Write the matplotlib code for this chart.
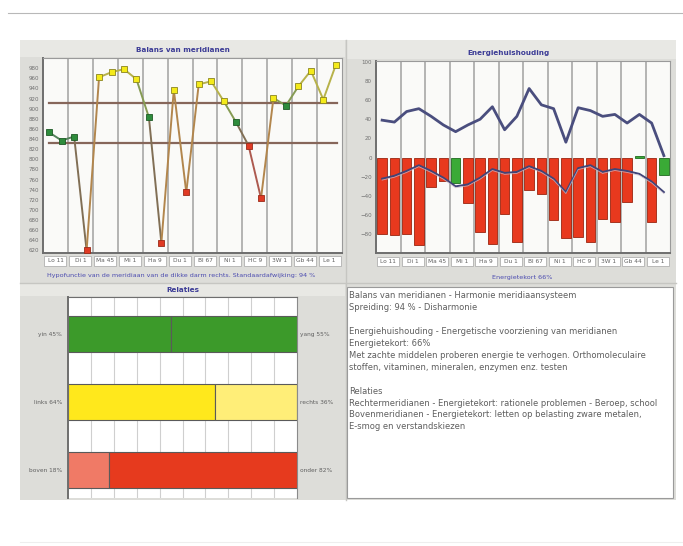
import matplotlib
matplotlib.use('Agg')
import matplotlib.pyplot as plt
import numpy as np
from matplotlib.patches import Rectangle
from matplotlib.collections import LineCollection
from matplotlib.lines import Line2D
import matplotlib.colors as mcolors
import matplotlib.transforms as mtrans

# ---------------- data ----------------
categories = ["Lo 11", "Di 1", "Ma 45", "Mi 1", "Ha 9", "Du 1", "Bl 67",
              "Ni 1", "HC 9", "3W 1", "Gb 44", "Le 1"]

# Balans van meridianen: two values (left / right) per meridian
balans = [853, 837, 845, 620, 962, 972, 978, 958, 883, 635, 937, 735,
          948, 954, 915, 873, 827, 723, 921, 906, 944, 975, 918, 986]
balans_upper = 912
balans_lower = 832
balans_ticks = list(range(620, 981, 20))
balans_caption = "Hypofunctie van de meridiaan van de dikke darm rechts. Standaardafwijking: 94 %"

# Energiehuishouding
energie_bars = [-80, -81, -80, -91, -31, -24, -27, -47, -78, -90, -59, -88,
                -34, -38, -65, -84, -83, -88, -64, -67, -46, 2, -67, -18]
energie_upper = [39, 37, 48, 51, 43, 34, 27, 34, 40, 53, 29, 43,
                 72, 55, 51, 16, 52, 49, 43, 45, 36, 45, 36, 2]
energie_lower = [-22, -19, -14, -8, -14, -21, -30, -28, -21, -12, -16, -15,
                 -9, -14, -22, -36, -11, -8, -15, -12, -14, -17, -25, -36]
energie_ticks = list(range(-80, 101, 20))
energie_caption = "Energietekort 66%"

# Relaties
rel_left_labels = ["yin 45%", "links 64%", "boven 18%"]
rel_right_labels = ["yang 55%", "rechts 36%", "onder 82%"]
rel_left = [45, 64, 18]
rel_right = [55, 36, 82]

info_lines = [
    "Balans van meridianen - Harmonie meridiaansysteem",
    "Spreiding: 94 % - Disharmonie",
    "",
    "Energiehuishouding - Energetische voorziening van meridianen",
    "Energietekort: 66%",
    "Met zachte middelen proberen energie te verhogen. Orthomoleculaire",
    "stoffen, vitaminen, mineralen, enzymen enz. testen",
    "",
    "Relaties",
    "Rechtermeridianen - Energietekort: rationele problemen - Beroep, school",
    "Bovenmeridianen - Energietekort: letten op belasting zware metalen,",
    "E-smog en verstandskiezen",
]

# ---------------- layout helpers ----------------
W, H = 683, 546
fig = plt.figure(figsize=(W / 100, H / 100), dpi=100)
fig.patch.set_facecolor('white')
plt.rcParams['font.family'] = ['DejaVu Sans']


def px_axes(x0, y0, x1, y1):
    ax = fig.add_axes([x0 / W, 1 - y1 / H, (x1 - x0) / W, (y1 - y0) / H])
    ax.set_zorder(5)
    return ax


def frect(x0, y0, x1, y1, fc, ec='none', lw=0, z=-10):
    fig.patches.append(Rectangle((x0 / W, 1 - y1 / H), (x1 - x0) / W, (y1 - y0) / H,
                                 transform=fig.transFigure, facecolor=fc,
                                 edgecolor=ec, linewidth=lw, zorder=z))


def fline(x0, y0, x1, y1, color, lw=1, z=-8):
    fig.add_artist(Line2D([x0 / W, x1 / W], [1 - y0 / H, 1 - y1 / H],
                          transform=fig.transFigure, color=color, lw=lw, zorder=z))


def ftext(x, y, s, **kw):
    fig.text(x / W, 1 - y / H, s, **kw)


TITLE_C = '#3C3C96'
CAP_C = '#4B4BB0'
TICK_C = '#707070'
GRID_C = '#A0A0A0'

# backgrounds
fline(8, 13, 683, 13, '#B8B8B8', lw=0.8)
fline(20, 542, 683, 542, '#EEEEEE', lw=0.8)
frect(20, 40, 676, 500, '#DDDDD9', z=-10)
frect(20, 40, 345, 57, '#E8E8E4', z=-9)
frect(347, 40, 676, 59, '#E8E8E4', z=-9)
frect(20, 284, 345, 296, '#E8E8E4', z=-9)
fline(346, 40, 346, 500, '#C6C6C2', lw=1)
fline(20, 283, 676, 283, '#C6C6C2', lw=1)

ftext(183, 50, "Balans van meridianen", ha='center', va='center',
      fontsize=5.2, fontweight='bold', color=TITLE_C)
ftext(508, 53, "Energiehuishouding", ha='center', va='center',
      fontsize=5.2, fontweight='bold', color=TITLE_C)
ftext(183, 290, "Relaties", ha='center', va='center',
      fontsize=5.2, fontweight='bold', color=TITLE_C)


def style_axes(ax):
    for s in ['top', 'right']:
        ax.spines[s].set_color('#9A9A9A')
        ax.spines[s].set_linewidth(0.8)
    for s in ['left', 'bottom']:
        ax.spines[s].set_color('#6E6E6E')
        ax.spines[s].set_linewidth(1.4)
    ax.tick_params(axis='both', length=0, labelsize=4, labelcolor=TICK_C, pad=3)


def category_boxes(ax, y0, y1):
    trans = mtrans.blended_transform_factory(ax.transData, ax.transAxes)
    for k, lab in enumerate(categories):
        ax.add_patch(Rectangle((2 * k + 0.12, y0), 1.76, y1 - y0, transform=trans,
                               facecolor='white', edgecolor='#B0B0B0', lw=0.6,
                               clip_on=False))
        ax.text(2 * k + 1, (y0 + y1) / 2, lab, transform=trans, ha='center',
                va='center', fontsize=4.2, color='#606060', clip_on=False)


x_pts = np.arange(len(balans)) + 0.5

# ---------------- Balans van meridianen ----------------
ax1 = px_axes(43, 58, 342, 253)
ax1.set_facecolor('#FAFAF8')
ax1.set_xlim(0, 24)
ax1.set_ylim(615, 1000)
ax1.vlines(np.arange(2, 24, 2), 615, 1000, color=GRID_C, lw=1.1, zorder=0)
style_axes(ax1)
ax1.set_xticks([])
ax1.set_yticks(balans_ticks)

ax1.plot([0.5, 23.6], [balans_upper, balans_upper], color='#86665A', lw=1.6, zorder=1)
ax1.plot([0.5, 23.6], [balans_lower, balans_lower], color='#86665A', lw=1.6, zorder=1)

YEL, GRN, RED = '#F4EA1A', '#2E8C3C', '#E03A24'
mcols = []
for v in balans:
    if v > balans_upper:
        mcols.append(YEL)
    elif v < balans_lower:
        mcols.append(RED)
    else:
        mcols.append(GRN)

gray = np.array(mcolors.to_rgb('#7A7A7A'))
segs, scols = [], []
for i in range(len(balans) - 1):
    segs.append([(x_pts[i], balans[i]), (x_pts[i + 1], balans[i + 1])])
    c = 0.5 * gray + 0.25 * np.array(mcolors.to_rgb(mcols[i])) + \
        0.25 * np.array(mcolors.to_rgb(mcols[i + 1]))
    scols.append(c)
ax1.add_collection(LineCollection(segs, colors=scols, linewidths=1.4, zorder=2))
edge_map = {YEL: '#8A8420', GRN: '#1E5A26', RED: '#9A2A18'}
for xi, v, c in zip(x_pts, balans, mcols):
    ax1.plot(xi, v, marker='s', ms=5, mfc=c, mec=edge_map[c], mew=0.6, zorder=3,
             clip_on=False)
category_boxes(ax1, -0.067, -0.015)
ftext(181, 276, balans_caption, ha='center', va='center', fontsize=4.6, color=CAP_C)

# ---------------- Energiehuishouding ----------------
ax2 = px_axes(376, 61, 670, 253)
ax2.set_facecolor('#FAFAF8')
ax2.set_xlim(0, 24)
ax2.set_ylim(-99.5, 100.7)
ax2.vlines(np.arange(2, 24, 2), -100, 101, color=GRID_C, lw=1.1, zorder=0)
style_axes(ax2)
ax2.set_xticks([])
ax2.set_yticks(energie_ticks)

bcols, becols = [], []
for b, lo in zip(energie_bars, energie_lower):
    if b > lo:
        bcols.append('#3AAA36'); becols.append('#1E6A1E')
    else:
        bcols.append('#E8391E'); becols.append('#9A2410')
ax2.bar(x_pts, energie_bars, width=0.76, color=bcols, edgecolor=becols, lw=0.6, zorder=2)
ax2.plot(x_pts, energie_upper, color='#4A4E7E', lw=2.0, zorder=3)
ax2.plot(x_pts, energie_lower, color='#404478', lw=1.4, zorder=3)
ax2.plot(x_pts, np.array(energie_lower) - 1.5, color='#C8B8C8', lw=0.6, zorder=3, alpha=0.8)
category_boxes(ax2, -0.068, -0.021)
ftext(522, 278, energie_caption, ha='center', va='center', fontsize=4.6, color=CAP_C)

# ---------------- Relaties ----------------
ax3 = px_axes(68, 297, 297, 498)
ax3.set_facecolor('white')
ax3.set_xlim(0, 100)
ax3.set_ylim(2.41, -0.545)
ax3.vlines(np.arange(10, 100, 10), -1, 3, color='#CFCFCF', lw=0.8, zorder=0)
style_axes(ax3)
ax3.spines['bottom'].set_visible(False)
ax3.spines['right'].set_color('#8A8A8A')
ax3.spines['top'].set_color('#6E6E6E')
ax3.set_xticks([])
ax3.set_yticks([])
left_cols = ['#3C9A2A', '#FFE81C', '#F07A66']
right_cols = ['#3C9A2A', '#FFEE78', '#E63A1E']
for i in range(3):
    ax3.barh(i, rel_left[i], height=0.54, color=left_cols[i], edgecolor='#5A5A5A',
             lw=0.8, zorder=2)
    ax3.barh(i, rel_right[i], left=rel_left[i], height=0.54, color=right_cols[i],
             edgecolor='#5A5A5A', lw=0.8, zorder=2)
    ax3.text(-0.025, i, rel_left_labels[i], transform=mtrans.blended_transform_factory(
        ax3.transAxes, ax3.transData), ha='right', va='center', fontsize=4.2, color='#606060')
    ax3.text(1.012, i, rel_right_labels[i], transform=mtrans.blended_transform_factory(
        ax3.transAxes, ax3.transData), ha='left', va='center', fontsize=4.2, color='#606060')

# ---------------- info text box ----------------
frect(347, 287, 673, 498, 'white', ec='#9A9A9A', lw=0.8, z=-7)
y = 296
for line in info_lines:
    if line:
        ftext(349, y, line, ha='left', va='center', fontsize=6.05, color='#5E5E5E', zorder=2)
    y += 11.9

fig.savefig('out.png', dpi=100, facecolor='white')
